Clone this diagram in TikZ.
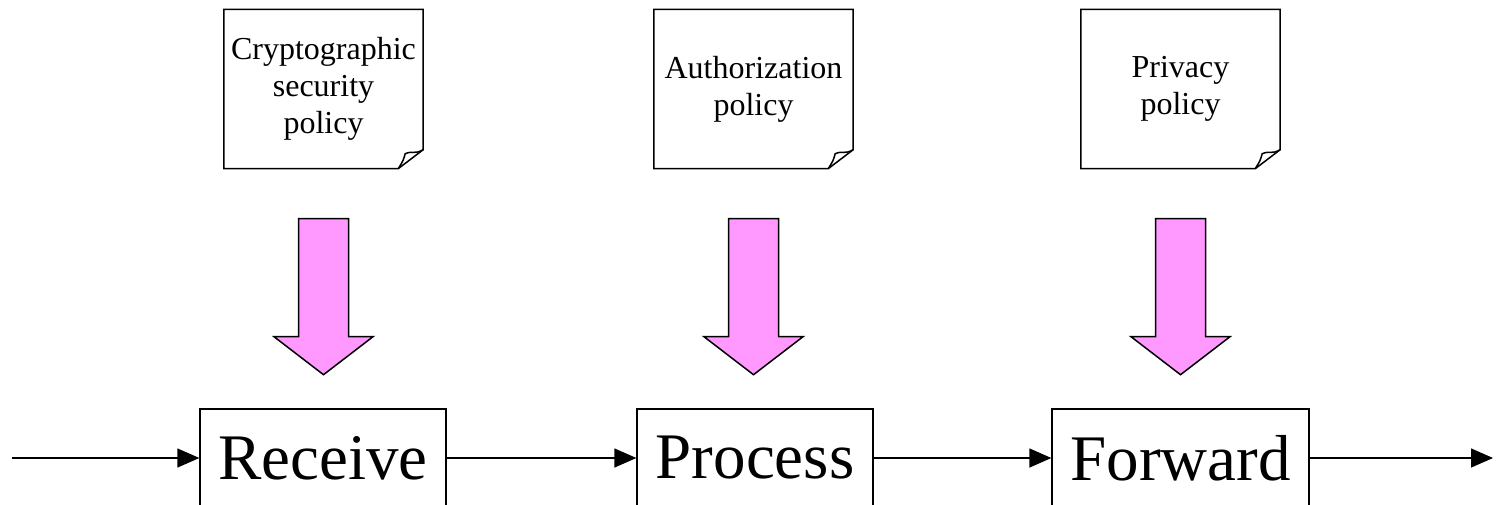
\documentclass[tikz,border=0pt]{standalone}
\usepackage{fontspec}
\setmainfont{Liberation Serif}
\usetikzlibrary{arrows.meta,calc}
\definecolor{flowpink}{HTML}{FF99FF}

% sheet outline with a dog-eared lower right corner
\newcommand\foldedpage[1]{%
  \draw[pageline] (#1.north west) -- (#1.north east)
    -- ([yshift=19pt]#1.south east) -- ([xshift=-25pt]#1.south east)
    -- (#1.south west) -- cycle;
  \draw[pageline] ([yshift=19pt]#1.south east)
    .. controls ([xshift=-8pt,yshift=14pt]#1.south east) and ([xshift=-14pt,yshift=18pt]#1.south east)
    .. ([xshift=-18pt,yshift=15pt]#1.south east)
    .. controls ([xshift=-20pt,yshift=8pt]#1.south east)
    .. ([xshift=-25pt]#1.south east);}

% wide block arrow hanging below a sheet
\newcommand\pusharrow[1]{%
  \draw[push, shift={(#1.south)}] (-25,50) -- (25,50) -- (25,168) -- (49.5,168)
    -- (0,206) -- (-49.5,168) -- (-25,168) -- cycle;}

\begin{document}
\begin{tikzpicture}[x=1pt,y=-1pt,
  page/.style={minimum width=199pt,minimum height=159pt,inner sep=0pt,
    align=center,font=\fontsize{32}{37}\selectfont},
  pageline/.style={line width=1.5pt,line join=miter},
  stage/.style={draw,line width=1.3pt,minimum height=98pt,inner sep=0pt,
    font=\fontsize{65}{70}\selectfont},
  flow/.style={line width=1.3pt,-{Triangle[length=22pt,width=19pt]}},
  push/.style={draw,line width=1.5pt,line join=miter,fill=flowpink}]
\useasboundingbox (0,0) rectangle (1496,505);
\clip (0,0) rectangle (1496,505);

% policy sheets
\node[page] (crypto) at (323.5,89) {Cryptographic\\security\\policy};
\node[page] (authz)  at (753.5,89) {Authorization\\policy};
\node[page] (priv)   at (1180.5,89) {Privacy\\policy};
\foldedpage{crypto}
\foldedpage{authz}
\foldedpage{priv}

% policies applied to the stages
\pusharrow{crypto}
\pusharrow{authz}
\pusharrow{priv}

% processing pipeline
\node[stage,minimum width=246pt] (recv) at (323,458) {Receive};
\node[stage,minimum width=236pt] (proc) at (755,458) {Process};
\node[stage,minimum width=257pt] (fwd)  at (1180.5,458) {Forward};
\coordinate (in)  at (12,458);
\coordinate (out) at (1493,458);

\draw[flow] (in) -- (recv);
\draw[flow] (recv) -- (proc);
\draw[flow] (proc) -- (fwd);
\draw[flow] (fwd) -- (out);
\end{tikzpicture}
\end{document}
